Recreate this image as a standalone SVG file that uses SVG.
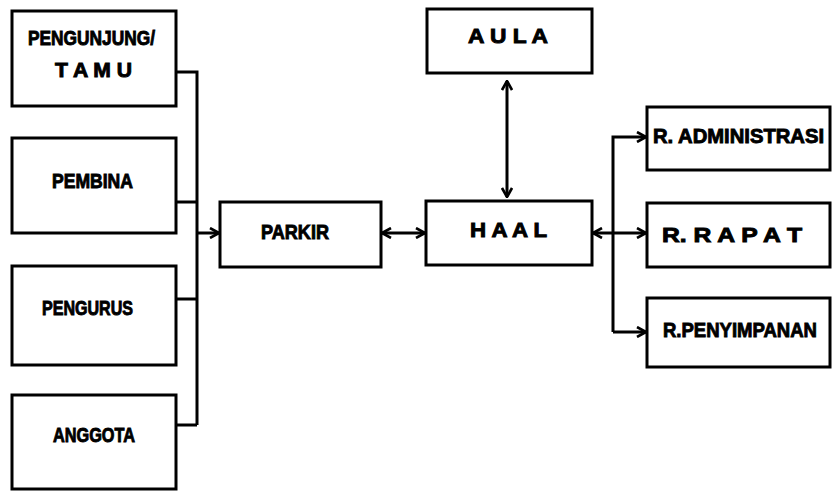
<svg xmlns="http://www.w3.org/2000/svg" width="833" height="494" viewBox="0 0 833 494">
  <style>
    .box { fill: #fff; stroke: #000; stroke-width: 3; }
    .lbl { font-family: "Liberation Sans", Arial, sans-serif; font-weight: bold; font-size: 20px; fill: #000; stroke: #000; stroke-width: 0.9; }
    .wire { fill: none; stroke: #000; stroke-width: 3; }
  </style>
  <defs>
    <marker id="head" viewBox="0 0 12 12" refX="11" refY="6" markerWidth="12" markerHeight="12" markerUnits="userSpaceOnUse" orient="auto-start-reverse">
      <path d="M2,1 L11,6 L2,11" fill="none" stroke="#000" stroke-width="2.6"/>
    </marker>
  </defs>
  <rect width="833" height="494" fill="#fff"/>

  <g id="pengunjung">
    <rect class="box" x="12" y="11" width="164" height="95"/>
    <text class="lbl" x="28" y="45" textLength="127" lengthAdjust="spacingAndGlyphs">PENGUNJUNG/</text>
    <text class="lbl" x="55" y="77" textLength="77" lengthAdjust="spacingAndGlyphs">T A M U</text>
  </g>
  <g id="pembina">
    <rect class="box" x="12" y="138" width="164" height="95"/>
    <text class="lbl" x="52" y="188" textLength="81" lengthAdjust="spacingAndGlyphs">PEMBINA</text>
  </g>
  <g id="pengurus">
    <rect class="box" x="12" y="266" width="164" height="99"/>
    <text class="lbl" x="42" y="315" textLength="91" lengthAdjust="spacingAndGlyphs">PENGURUS</text>
  </g>
  <g id="anggota">
    <rect class="box" x="12" y="395" width="164" height="94"/>
    <text class="lbl" x="53" y="442" textLength="82" lengthAdjust="spacingAndGlyphs">ANGGOTA</text>
  </g>
  <g id="parkir">
    <rect class="box" x="220" y="202" width="161" height="65"/>
    <text class="lbl" x="261" y="239" textLength="68" lengthAdjust="spacingAndGlyphs">PARKIR</text>
  </g>
  <g id="aula">
    <rect class="box" x="427" y="9" width="165" height="64"/>
    <text class="lbl" x="468" y="43" textLength="80" lengthAdjust="spacingAndGlyphs">A U L A</text>
  </g>
  <g id="haal">
    <rect class="box" x="426" y="201" width="166" height="64"/>
    <text class="lbl" x="470" y="237" textLength="77" lengthAdjust="spacingAndGlyphs">H A A L</text>
  </g>
  <g id="r-administrasi">
    <rect class="box" x="647" y="107" width="183" height="63"/>
    <text class="lbl" x="653" y="143" textLength="171" lengthAdjust="spacingAndGlyphs">R. ADMINISTRASI</text>
  </g>
  <g id="r-rapat">
    <rect class="box" x="647" y="203" width="183" height="64"/>
    <text class="lbl" x="662" y="242" textLength="140" lengthAdjust="spacingAndGlyphs">R. R A P A T</text>
  </g>
  <g id="r-penyimpanan">
    <rect class="box" x="647" y="298" width="183" height="69"/>
    <text class="lbl" x="663" y="337" textLength="154" lengthAdjust="spacingAndGlyphs">R.PENYIMPANAN</text>
  </g>

  <g id="connectors">
    <!-- visitors merge into the parking bus -->
    <path class="wire" d="M176,72 H197 V425"/>
    <path class="wire" d="M176,202 H197"/>
    <path class="wire" d="M176,299 H197"/>
    <path class="wire" d="M176,425 H197"/>
    <path class="wire" d="M197,233 H219" marker-end="url(#head)"/>
    <!-- parking to hall -->
    <path class="wire" d="M382,233 H425" marker-start="url(#head)" marker-end="url(#head)"/>
    <!-- hall to aula -->
    <path class="wire" d="M507,81 V197" marker-start="url(#head)" marker-end="url(#head)"/>
    <!-- hall to rooms -->
    <path class="wire" d="M593,233 H646" marker-start="url(#head)" marker-end="url(#head)"/>
    <path class="wire" d="M613,332 V137 H646" marker-end="url(#head)"/>
    <path class="wire" d="M613,332 H646" marker-end="url(#head)"/>
  </g>
</svg>
